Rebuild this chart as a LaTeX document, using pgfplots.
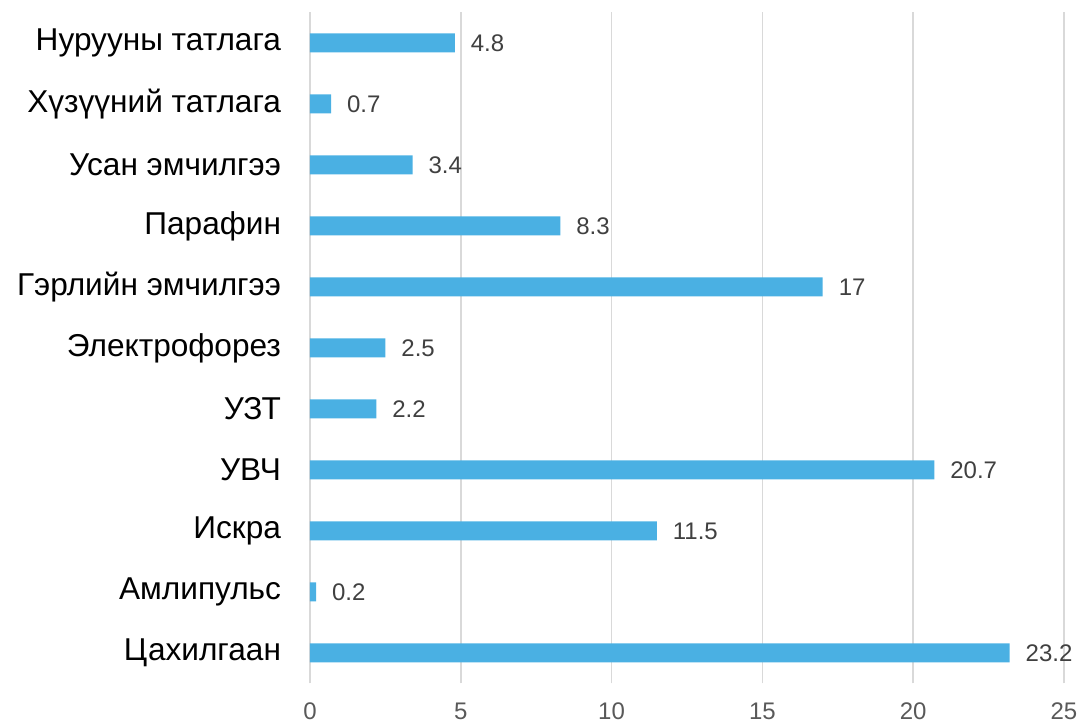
\documentclass[border=0pt]{standalone}
\usepackage{pgfplots}
\pgfplotsset{compat=1.18}
\usepackage{fontspec}
\setmainfont{Liberation Sans}
\definecolor{barblue}{RGB}{74,176,227}
\definecolor{gridgray}{RGB}{217,217,217}
\definecolor{ticktext}{RGB}{89,89,89}
\definecolor{valtext}{RGB}{64,64,64}

\pgfplotstableread{
idx val
0 23.2
1 0.2
2 11.5
3 20.7
4 2.2
5 2.5
6 17
7 8.3
8 3.4
9 0.7
10 4.8
}\proceduretable

\begin{document}
\begin{tikzpicture}
  \begin{axis}[
    at={(0,0)}, anchor=south west,
    scale only axis,
    width=754pt, height=671pt,
    xbar, bar width=19pt,
    xmin=0, xmax=25,
    ymin=-0.5, ymax=10.5,
    xtick={0,5,...,25},
    ytick={0,...,10},
    yticklabels={Цахилгаан, Амлипульс, Искра, УВЧ, УЗТ, Электрофорез,
      Гэрлийн эмчилгээ, Парафин, Усан эмчилгээ, Хүзүүний татлага, Нурууны татлага},
    axis line style={draw=none},
    major tick length=0pt,
    xmajorgrids,
    grid style={gridgray, line width=1.5pt},
    /pgf/number format/assume math mode=true,
    xticklabel style={font=\fontsize{24}{28}\selectfont, text=ticktext, yshift=-16pt},
    yticklabel style={font=\fontsize{31.6}{36}\selectfont, text=black, xshift=-25.5pt},
    nodes near coords,
    nodes near coords style={font=\fontsize{24}{28}\selectfont, text=valtext, xshift=12.5pt},
  ]
    \addplot[fill=barblue, draw=none] table[x=val, y=idx] {\proceduretable};
  \end{axis}
  \pgfresetboundingbox
  \path (-310pt,-39.5pt) rectangle (767pt,683.5pt);
\end{tikzpicture}
\end{document}
